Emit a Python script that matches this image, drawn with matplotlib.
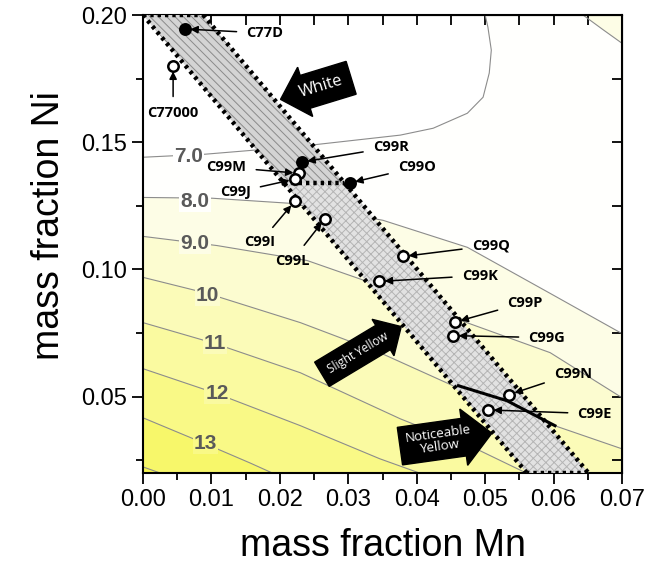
import numpy as np
import matplotlib
matplotlib.use("Agg")
import matplotlib.pyplot as plt
from matplotlib.patches import Polygon
from matplotlib.ticker import FormatStrFormatter, MultipleLocator

plt.rcParams['font.family'] = ['Liberation Sans', 'DejaVu Sans']
plt.rcParams['hatch.linewidth'] = 0.7

# contour lines (Mn, Ni)
c7_x = [0.0, 0.0091, 0.0230, 0.0376, 0.0424, 0.0474, 0.0497, 0.0506, 0.0509, 0.0504, 0.0500]
c7_y = [0.1441, 0.1453, 0.1484, 0.1528, 0.1555, 0.1614, 0.1677, 0.1772, 0.1862, 0.1953, 0.200]
c8_x = [0.0, 0.0101, 0.0215, 0.0351, 0.0474, 0.0595, 0.070]
c8_y = [0.1283, 0.1280, 0.1260, 0.1193, 0.1087, 0.0906, 0.0748]
c8b_x = [0.0643, 0.0673, 0.070]
c8b_y = [0.200, 0.1941, 0.1889]
c9_x = [0.0, 0.0108, 0.0240, 0.0336, 0.0434, 0.0595, 0.070]
c9_y = [0.1130, 0.1094, 0.1035, 0.0945, 0.0829, 0.0673, 0.0496]
c10_x = [0.0, 0.0094, 0.0230, 0.0346, 0.0463, 0.0580, 0.070]
c10_y = [0.0969, 0.0906, 0.0791, 0.0673, 0.0531, 0.0406, 0.0295]
c11_x = [0.0, 0.0105, 0.0230, 0.0376, 0.0493, 0.0560]
c11_y = [0.0791, 0.0709, 0.0594, 0.0413, 0.0287, 0.0200]
c12_x = [0.0, 0.0108, 0.0230, 0.0346, 0.0404]
c12_y = [0.0610, 0.0512, 0.0386, 0.0256, 0.0200]
c13_x = [0.0, 0.0091, 0.0156, 0.0189]
c13_y = [0.0417, 0.0315, 0.0240, 0.0200]
c14_x = [0.0, 0.0025]
c14_y = [0.0224, 0.0200]

contours = [
    (c7_x, c7_y, [(0.07, 0.20), (0.07, 0.0), (0.0, 0.0)], '#fffffd'),
    (c8_x, c8_y, [(0.07, 0.0), (0.0, 0.0)], '#fdfde6'),
    (c8b_x, c8b_y, [(0.07, 0.20)], '#fdfde6'),
    (c9_x, c9_y, [(0.07, 0.0), (0.0, 0.0)], '#fcfcd0'),
    (c10_x, c10_y, [(0.07, 0.0), (0.0, 0.0)], '#fbfbb8'),
    (c11_x, c11_y, [(0.056, 0.0), (0.0, 0.0)], '#fafaa0'),
    (c12_x, c12_y, [(0.04, 0.0), (0.0, 0.0)], '#f9f986'),
    (c13_x, c13_y, [(0.019, 0.0), (0.0, 0.0)], '#f7f76a'),
    (c14_x, c14_y, [(0.0, 0.0)], '#f4f450'),
]

level_labels = ['7.0', '8.0', '9.0', '10', '11', '12', '13']
level_lx = [0.0066, 0.0076, 0.0076, 0.0094, 0.0105, 0.0108, 0.0091]
level_ly = [0.1445, 0.1268, 0.1102, 0.0898, 0.0709, 0.0512, 0.0315]
level_bg = ['#ffffff', '#fffffd', '#fdfde6', '#fcfcd0', '#fbfbb8', '#fafaa0', '#f9f986']

# composition band
band_upper_x = [0.0, 0.0088, 0.0294, 0.0206]
band_upper_y = [0.200, 0.200, 0.134, 0.134]
band_lower_x = [0.0206, 0.0294, 0.0651, 0.0561]
band_lower_y = [0.134, 0.134, 0.020, 0.020]
bold_x = [0.0461, 0.0532, 0.0602]
bold_y = [0.0543, 0.0484, 0.0386]

# alloys
names = ['C77D', 'C77000', 'C99R', 'C99M', 'C99J', 'C99O', 'C99I', 'C99L',
         'C99Q', 'C99K', 'C99P', 'C99G', 'C99N', 'C99E']
mn = [0.0061, 0.0044, 0.0232, 0.0228, 0.0222, 0.0302, 0.0222, 0.0266,
      0.0380, 0.0345, 0.0456, 0.0453, 0.0535, 0.0504]
ni = [0.1945, 0.1800, 0.1422, 0.1378, 0.1355, 0.1340, 0.1269, 0.1200,
      0.1051, 0.0953, 0.0793, 0.0740, 0.0508, 0.0448]
filled = [True, False, True, False, False, True, False, False,
          False, False, False, False, False, False]
text_x = [0.0178, 0.0044, 0.0362, 0.0122, 0.0135, 0.0400, 0.0171, 0.0218,
          0.0508, 0.0492, 0.0558, 0.0590, 0.0628, 0.0660]
text_y = [0.1929, 0.1614, 0.1480, 0.1402, 0.1303, 0.1402, 0.1106, 0.1035,
          0.1094, 0.0976, 0.0870, 0.0732, 0.0591, 0.0433]

fig = plt.figure(figsize=(6.72, 5.69), dpi=100)
ax = fig.add_axes([0.2128, 0.1687, 0.7128, 0.8049])
ax.set_xlim(0, 0.07)
ax.set_ylim(0.02, 0.20)

for cx, cy, close, col in contours:
    pts = list(zip(cx, cy)) + close
    ax.add_patch(Polygon(pts, closed=True, fc=col, ec='none', zorder=0))
    ax.plot(cx, cy, color='#8c8c8c', lw=0.8, zorder=1)

for lab, lx, ly, bg in zip(level_labels, level_lx, level_ly, level_bg):
    ax.text(lx, ly, lab, fontsize=15, fontweight='bold', color='#5a5a5a',
            ha='center', va='center', zorder=2,
            bbox=dict(boxstyle='square,pad=0.05', fc=bg, ec='none'))

ax.add_patch(Polygon(list(zip(band_upper_x, band_upper_y)), closed=True,
                     fc='#d4d4d4', ec='#8a8a8a', lw=0, hatch='\\\\\\\\', zorder=3))
ax.add_patch(Polygon(list(zip(band_lower_x, band_lower_y)), closed=True,
                     fc='#e2e2e2', ec='#b4b4b4', lw=0, hatch='xxxx', zorder=3))

dots = dict(color='k', lw=3.2, ls=(0, (0.75, 0.9)), zorder=4, solid_capstyle='butt')
ax.plot([band_upper_x[0], band_lower_x[3]], [band_upper_y[0], band_lower_y[3]], **dots)
ax.plot([band_upper_x[1], band_lower_x[2]], [band_upper_y[1], band_lower_y[2]], **dots)
ax.plot(band_upper_x[:2], band_upper_y[:2], **dots)
ax.plot(band_lower_x[2:], band_lower_y[2:], **dots)
ax.plot(band_lower_x[:2], band_lower_y[:2], **dots)
ax.plot(bold_x, bold_y, color='k', lw=2.2, zorder=4)

for n, x, y, f, tx, ty in zip(names, mn, ni, filled, text_x, text_y):
    ax.plot(x, y, 'o', ms=7.5, mfc='k' if f else 'white', mec='k', mew=1.8, zorder=6)
    ax.annotate(n, xy=(x, y), xytext=(tx, ty), ha='center', va='center',
                fontsize=10.5, fontweight='bold', family=['Open Sans', 'DejaVu Sans'],
                zorder=7,
                arrowprops=dict(arrowstyle='-|>', color='k', lw=1.1,
                                mutation_scale=11, shrinkA=5, shrinkB=4))

arrow_txt = ['White', 'Slight Yellow', 'Noticeable\nYellow']
arrow_x = [0.0260, 0.0314, 0.0432]
arrow_y = [0.1717, 0.0673, 0.0327]
arrow_rot = [17, 31, 8]
arrow_box = ['larrow,pad=0.55', 'rarrow,pad=0.65', 'rarrow,pad=0.45']
arrow_fs = [12, 8.5, 9.5]
for t, x, y, r, b, fs in zip(arrow_txt, arrow_x, arrow_y, arrow_rot, arrow_box, arrow_fs):
    ax.text(x, y, t, rotation=r, rotation_mode='anchor', ha='center', va='center',
            color='white', fontsize=fs, family=['Open Sans', 'DejaVu Sans'],
            linespacing=1.0, zorder=7,
            bbox=dict(boxstyle=b, fc='black', ec='black'))

ax.xaxis.set_major_locator(MultipleLocator(0.01))
ax.xaxis.set_minor_locator(MultipleLocator(0.005))
ax.yaxis.set_major_locator(MultipleLocator(0.05))
ax.yaxis.set_minor_locator(MultipleLocator(0.025))
ax.xaxis.set_major_formatter(FormatStrFormatter('%.2f'))
ax.yaxis.set_major_formatter(FormatStrFormatter('%.2f'))
ax.tick_params(which='both', direction='out', labelsize=17, width=1.3)
ax.tick_params(which='major', length=8)
ax.tick_params(which='minor', length=5)
for s in ax.spines.values():
    s.set_linewidth(1.5)

# inward ticks on top and right
sec_x = ax.secondary_xaxis('top')
sec_x.xaxis.set_major_locator(MultipleLocator(0.005))
sec_x.tick_params(direction='in', length=7, width=1.3, labeltop=False)
sec_y = ax.secondary_yaxis('right')
sec_y.yaxis.set_major_locator(MultipleLocator(0.025))
sec_y.tick_params(direction='in', length=7, width=1.3, labelright=False)

ax.set_xlabel('mass fraction Mn', fontsize=27, labelpad=12)
ax.set_ylabel('mass fraction Ni', fontsize=27, labelpad=10)
ax.yaxis.label.set_y(0.54)

fig.savefig('out.png', dpi=100)
